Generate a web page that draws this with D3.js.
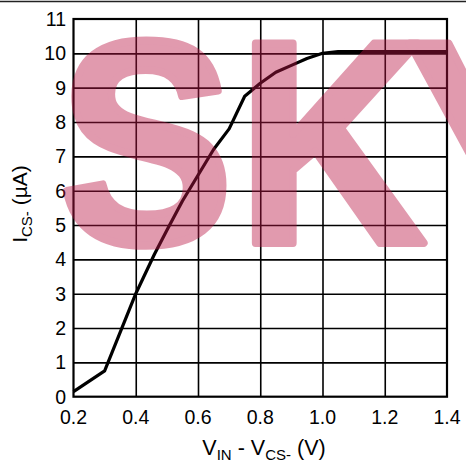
<!DOCTYPE html>
<html>
<head>
<meta charset="utf-8">
<script src="https://cdn.jsdelivr.net/npm/d3@7"></script>
<style>
  body { margin: 0; background: #fff; }
  svg { display: block; font-family: "Liberation Sans", Arial, sans-serif; }
</style>
</head>
<body>
<svg width="466" height="463"></svg>
<script>
// curve
const vDiff = [0.2, 0.3, 0.4, 0.46, 0.5, 0.55, 0.6, 0.65, 0.7, 0.75, 0.8, 0.85, 0.9, 0.95, 1.0, 1.05, 1.1, 1.2, 1.3, 1.4];
const iCs = [0.15, 0.75, 3.0, 4.15, 4.85, 5.7, 6.45, 7.2, 7.8, 8.75, 9.13, 9.45, 9.65, 9.85, 10.0, 10.05, 10.05, 10.05, 10.05, 10.05];
const xTicks = [0.2, 0.4, 0.6, 0.8, 1.0, 1.2, 1.4];
const yTicks = [0, 1, 2, 3, 4, 5, 6, 7, 8, 9, 10, 11];

const svg = d3.select('svg');
const plotL = 73.5, plotR = 447, plotT = 19, plotB = 396.7;

const x = d3.scaleLinear().domain([0.2, 1.4]).range([plotL, plotR]);
const y = d3.scaleLinear().domain([0, 11]).range([plotB, plotT]);

// thin rule across the top of the image
svg.append('line')
    .attr('x1', 0).attr('x2', 466)
    .attr('y1', 1.5).attr('y2', 1.5)
    .attr('stroke', '#222')
    .attr('stroke-width', 1.5);

const chart = svg.append('g');

chart.append('g')
    .call(d3.axisBottom(x).tickValues(xTicks.slice(1, -1)).tickSize(-(plotB - plotT)).tickFormat(''))
    .attr('transform', `translate(0, ${plotB})`)
    .call(g => g.select('.domain').remove())
    .selectAll('line').attr('stroke', '#000').attr('stroke-width', 1.6);

chart.append('g')
    .call(d3.axisLeft(y).tickValues(yTicks.slice(1, -1)).tickSize(-(plotR - plotL)).tickFormat(''))
    .attr('transform', `translate(${plotL}, 0)`)
    .call(g => g.select('.domain').remove())
    .selectAll('line').attr('stroke', '#000').attr('stroke-width', 1.6);

chart.append('rect')
    .attr('x', plotL).attr('y', plotT)
    .attr('width', plotR - plotL).attr('height', plotB - plotT)
    .attr('fill', 'none')
    .attr('stroke', '#000')
    .attr('stroke-width', 2.2);

// tick labels
chart.selectAll('.xlab')
    .data(xTicks)
    .enter()
    .append('text')
    .attr('class', 'xlab')
    .attr('x', d => x(d))
    .attr('y', 424)
    .attr('text-anchor', 'middle')
    .attr('font-size', 19.5)
    .text(d => d.toFixed(1));

chart.selectAll('.ylab')
    .data(yTicks)
    .enter()
    .append('text')
    .attr('class', 'ylab')
    .attr('x', 66)
    .attr('y', d => y(d) + 7)
    .attr('text-anchor', 'end')
    .attr('font-size', 19.5)
    .text(d => d);

// axis titles
const xt = svg.append('text')
    .attr('x', 264)
    .attr('y', 455)
    .attr('text-anchor', 'middle')
    .attr('font-size', 21.5);
xt.append('tspan').text('V');
xt.append('tspan').attr('font-size', 15).attr('dy', 5).text('IN');
xt.append('tspan').attr('dy', -5).text(' - V');
xt.append('tspan').attr('font-size', 15).attr('dy', 5).text('CS-');
xt.append('tspan').attr('dy', -5).text(' (V)');

const yt = svg.append('text')
    .attr('transform', 'translate(27, 204) rotate(-90)')
    .attr('text-anchor', 'middle')
    .attr('font-size', 21);
yt.append('tspan').text('I');
yt.append('tspan').attr('font-size', 15).attr('dy', 5).text('CS-');
yt.append('tspan').attr('dy', -5).text(' (µA)');

// curve
const line = d3.line()
    .x((d, i) => x(vDiff[i]))
    .y(d => y(d));

chart.append('path')
    .datum(iCs)
    .attr('d', line)
    .attr('fill', 'none')
    .attr('stroke', '#000')
    .attr('stroke-width', 3.2)
    .attr('stroke-linejoin', 'round');

// watermark over everything
const wmLetters = [['S', 59], ['K', 238], ['Y', 405]];
const wm = svg.append('g')
    .attr('opacity', 0.43);
wm.selectAll('text')
    .data(wmLetters)
    .enter()
    .append('text')
    .attr('transform', d => `translate(${d[1]}, 243) scale(0.9, 1)`)
    .attr('font-size', 290)
    .attr('font-weight', 'bold')
    .attr('fill', 'rgb(186,23,70)')
    .attr('stroke', 'rgb(186,23,70)')
    .attr('stroke-width', 8)
    .attr('stroke-linejoin', 'round')
    .text(d => d[0]);
</script>
</body>
</html>
